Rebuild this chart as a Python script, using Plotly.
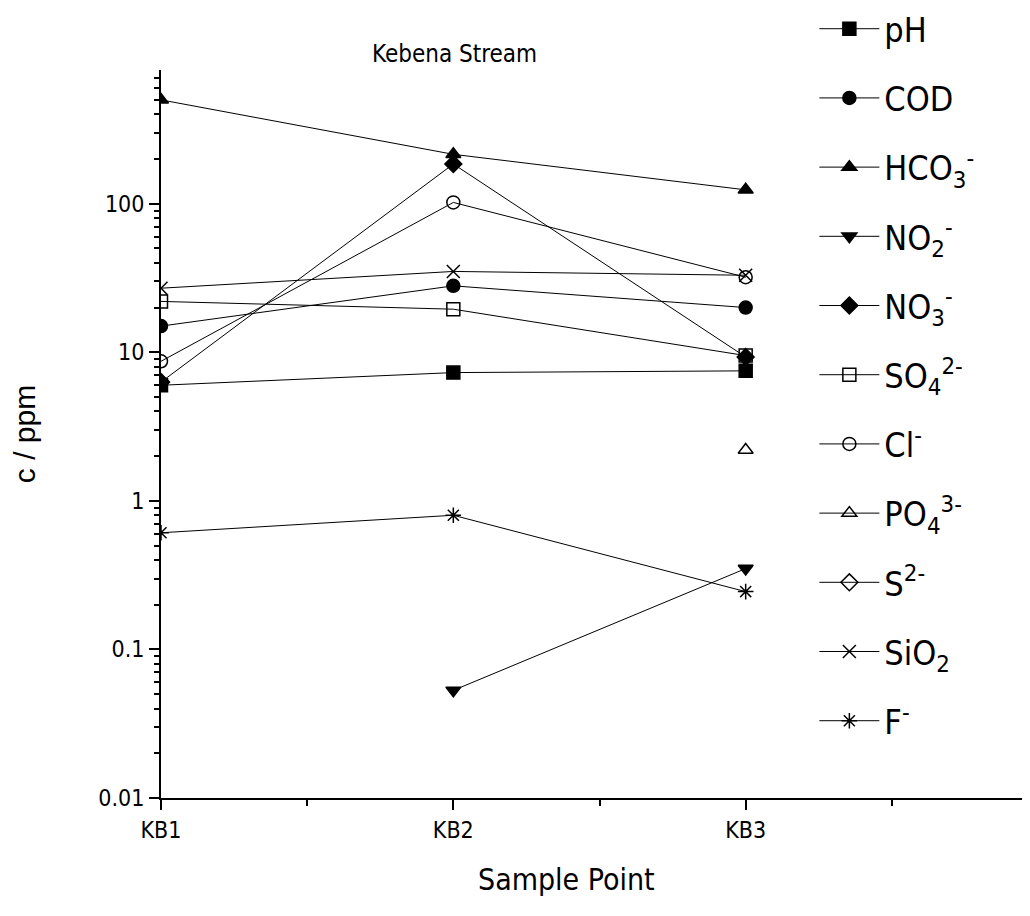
import plotly.graph_objects as go

categories = ["KB1", "KB2", "KB3"]
x_pos = [1, 2, 3]

pH = [6.0, 7.3, 7.5]
COD = [15, 28, 20]
HCO3 = [500, 215, 124]
NO2 = [None, 0.053, 0.35]
NO3 = [6.3, 185, 9.3]
SO4 = [22, 19.5, 9.5]
Cl = [8.7, 102, 32]
PO4 = [None, None, 2.2]
S2 = [None, None, None]
SiO2 = [27, 35, 33]
F = [0.61, 0.8, 0.245]

series = [
    ("pH", pH, "square"),
    ("COD", COD, "circle"),
    ("HCO<sub>3</sub><sup>-</sup>", HCO3, "triangle-up"),
    ("NO<sub>2</sub><sup>-</sup>", NO2, "triangle-down"),
    ("NO<sub>3</sub><sup>-</sup>", NO3, "diamond"),
    ("SO<sub>4</sub><sup>2-</sup>", SO4, "square-open"),
    ("Cl<sup>-</sup>", Cl, "circle-open"),
    ("PO<sub>4</sub><sup>3-</sup>", PO4, "triangle-up-open"),
    ("S<sup>2-</sup>", S2, "diamond-open"),
    ("SiO<sub>2</sub>", SiO2, "x-thin-open"),
    ("F<sup>-</sup>", F, "asterisk-open"),
]

font_main = "DejaVu Sans Condensed, Liberation Sans Narrow, Liberation Sans, Arial, sans-serif"

fig = go.Figure()
for i, (name, vals, sym) in enumerate(series):
    fig.add_trace(go.Scatter(
        x=x_pos, y=vals, name=name, mode="lines+markers",
        line=dict(color="black", width=1),
        marker=dict(symbol=sym, size=13, color="black",
                    line=dict(color="black", width=1.5)),
        legendgroup=f"g{i}", connectgaps=False,
    ))

minor_vals = []
for d in [0.01, 0.1, 1, 10, 100]:
    for k in range(2, 10):
        minor_vals.append(d * k)

fig.update_layout(
    width=1030, height=916,
    margin=dict(l=153, r=0, t=62, b=126, autoexpand=False),
    paper_bgcolor="white", plot_bgcolor="white",
    font=dict(family=font_main, color="black", size=22),
    showlegend=True,
    legend=dict(
        x=0.745, y=1.096, xanchor="left", yanchor="top",
        font=dict(size=34, family=font_main),
        tracegroupgap=22, itemwidth=60, maxheight=916,
        bgcolor="rgba(0,0,0,0)",
    ),
    annotations=[
        dict(
            text="Kebena Stream", x=0.335, y=1.0, xref="paper", yref="paper",
            xanchor="center", yanchor="bottom", showarrow=False,
            font=dict(size=24, family=font_main),
        ),
        dict(
            text="Sample Point", x=0.462, y=-0.085, xref="paper", yref="paper",
            xanchor="center", yanchor="top", showarrow=False,
            font=dict(size=30, family=font_main),
        ),
    ],
)

fig.update_xaxes(
    range=[1, 4], tickvals=x_pos, ticktext=categories,
    showline=True, linecolor="black", linewidth=2,
    ticks="outside", ticklen=10, tickwidth=1.5, tickcolor="black",
    minor=dict(tickvals=[1.5, 2.5, 3.5], ticks="outside", ticklen=6, tickcolor="black"),
    showgrid=False, zeroline=False,
    tickfont=dict(size=23),
)

fig.update_yaxes(
    type="log", range=[-2, 2.9],
    tickvals=[0.01, 0.1, 1, 10, 100], ticktext=["0.01", "0.1", "1", "10", "100"],
    showline=True, linecolor="black", linewidth=2,
    ticks="outside", ticklen=10, tickwidth=2, tickcolor="black",
    minor=dict(tickvals=minor_vals, ticks="outside", ticklen=5, tickcolor="black", tickwidth=1.5),
    showgrid=False, zeroline=False,
    tickfont=dict(size=23),
    title=dict(text="c / ppm", font=dict(size=30, family="Liberation Sans, Arial, sans-serif"), standoff=55),
)

fig.write_html("out.html")
